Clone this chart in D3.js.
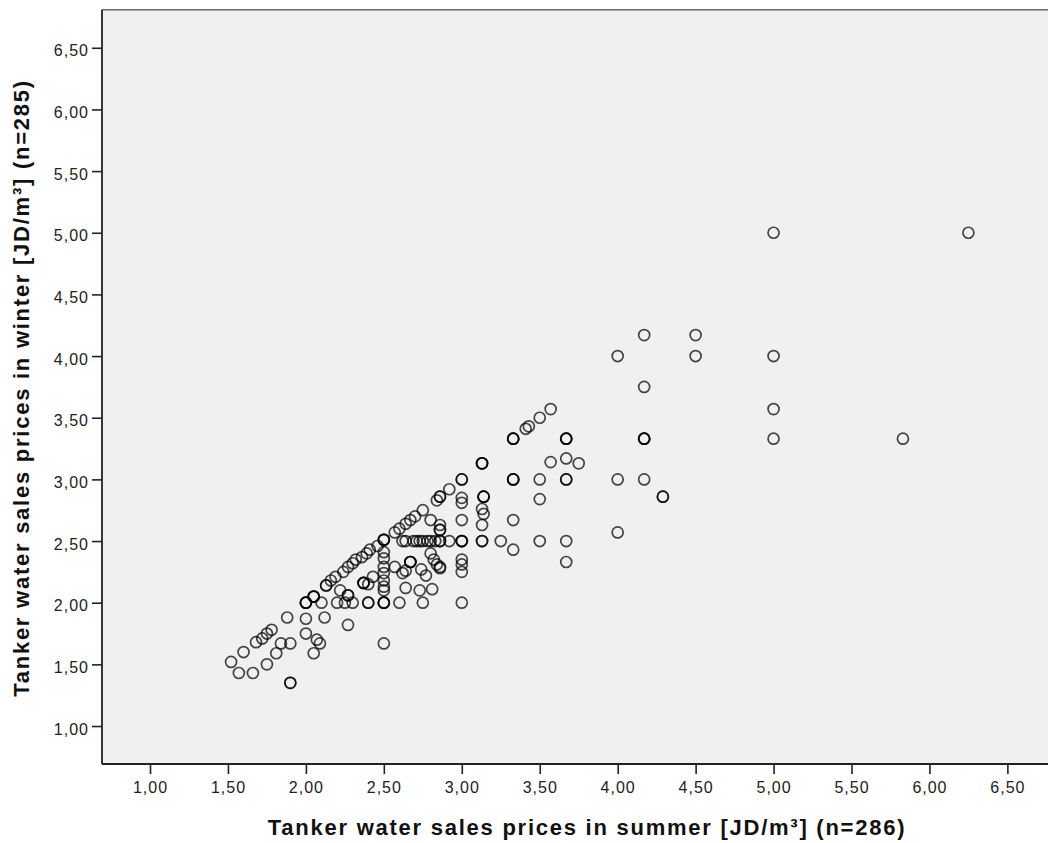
<!DOCTYPE html>
<html>
<head>
<meta charset="utf-8">
<script src="https://cdn.jsdelivr.net/npm/d3@7/dist/d3.min.js"></script>
<style>
  html, body { margin: 0; padding: 0; background: #ffffff; }
  svg { display: block; }
  .tick text { font-family: "Liberation Sans", Arial, sans-serif; font-size: 16px; letter-spacing: 1px; fill: #222; }
  .title { font-family: "Liberation Sans", Arial, sans-serif; font-size: 22px; font-weight: bold; letter-spacing: 1.75px; fill: #111; }
</style>
</head>
<body>
<svg id="chart" width="1048" height="843"></svg>
<script>
// Summer price (x) and winter price (y) of each respondent, JD/m³
const summer = [
  6.25, 5.00, 4.17, 4.50, 4.00, 4.50, 5.00, 4.17, 5.00, 4.17, 4.17, 4.17, 5.00, 5.83, 4.00, 4.17, 4.29, 4.29, 4.00,
  3.57, 3.50, 3.43, 3.41, 3.33, 3.33, 3.33, 3.67, 3.67, 3.67, 3.13, 3.13, 3.13, 3.57, 3.67, 3.75,
  3.00, 3.00, 3.33, 3.33, 3.33, 3.50, 3.67, 3.67, 2.92, 2.86, 2.86, 2.84, 3.00, 3.00, 3.14, 3.14, 3.14,
  3.13, 3.14, 3.50, 3.00, 3.13, 3.33, 2.92, 3.00, 3.00, 3.00, 3.13, 3.13, 3.25, 3.33, 3.50, 3.67, 3.67,
  3.00, 3.00, 3.00, 2.86, 3.00,
  2.75, 2.70, 2.67, 2.64, 2.60, 2.57, 2.80, 2.86, 2.86, 2.86,
  2.62, 2.64, 2.69, 2.71, 2.73, 2.75, 2.78, 2.80, 2.83, 2.86, 2.86,
  2.50, 2.50, 2.50,
  2.46, 2.41, 2.39, 2.36, 2.32, 2.30, 2.27, 2.24, 2.19, 2.16, 2.13, 2.13,
  2.50, 2.50, 2.50, 2.50, 2.50, 2.50, 2.50, 2.57, 2.67, 2.67, 2.67, 2.64, 2.62, 2.64, 2.73, 2.81,
  2.74, 2.77, 2.80, 2.82, 2.84, 2.86,
  2.75, 2.60, 2.50, 2.50, 2.50, 2.40, 2.40, 2.30, 2.25, 2.20, 2.10, 2.00, 2.00, 2.00,
  2.05, 2.05, 2.05, 2.22, 2.27, 2.27, 2.37, 2.37, 2.37, 2.43, 2.40,
  1.52, 1.57, 1.66, 1.60, 1.75, 1.81, 1.84, 1.90, 1.68, 1.72, 1.75, 1.78, 1.88, 1.90, 1.90,
  2.00, 2.00, 2.07, 2.09, 2.05, 2.12, 2.27, 2.50
];
const winter = [
  5.00, 5.00, 4.17, 4.17, 4.00, 4.00, 4.00, 3.75, 3.57, 3.33, 3.33, 3.33, 3.33, 3.33, 3.00, 3.00, 2.86, 2.86, 2.57,
  3.57, 3.50, 3.43, 3.41, 3.33, 3.33, 3.33, 3.33, 3.33, 3.33, 3.13, 3.13, 3.13, 3.14, 3.17, 3.13,
  3.00, 3.00, 3.00, 3.00, 3.00, 3.00, 3.00, 3.00, 2.92, 2.86, 2.86, 2.83, 2.85, 2.81, 2.86, 2.86, 2.86,
  2.76, 2.72, 2.84, 2.67, 2.63, 2.67, 2.50, 2.50, 2.50, 2.50, 2.50, 2.50, 2.50, 2.43, 2.50, 2.50, 2.33,
  2.35, 2.31, 2.25, 2.29, 2.00,
  2.75, 2.70, 2.67, 2.64, 2.60, 2.57, 2.67, 2.63, 2.59, 2.59,
  2.50, 2.50, 2.50, 2.50, 2.50, 2.50, 2.50, 2.50, 2.50, 2.50, 2.50,
  2.51, 2.51, 2.51,
  2.46, 2.43, 2.40, 2.37, 2.35, 2.32, 2.29, 2.25, 2.21, 2.18, 2.14, 2.14,
  2.41, 2.36, 2.29, 2.24, 2.18, 2.13, 2.10, 2.29, 2.33, 2.33, 2.33, 2.26, 2.24, 2.12, 2.10, 2.11,
  2.27, 2.22, 2.40, 2.35, 2.31, 2.28,
  2.00, 2.00, 2.00, 2.00, 2.00, 2.00, 2.00, 2.00, 2.00, 2.00, 2.00, 2.00, 2.00, 2.00,
  2.05, 2.05, 2.05, 2.10, 2.06, 2.06, 2.16, 2.16, 2.16, 2.21, 2.15,
  1.52, 1.43, 1.43, 1.60, 1.50, 1.59, 1.67, 1.67, 1.68, 1.71, 1.75, 1.78, 1.88, 1.35, 1.35,
  1.87, 1.75, 1.70, 1.67, 1.59, 1.88, 1.82, 1.67
];
const xTickValues = [1.00, 1.50, 2.00, 2.50, 3.00, 3.50, 4.00, 4.50, 5.00, 5.50, 6.00, 6.50];
const yTickValues = [1.00, 1.50, 2.00, 2.50, 3.00, 3.50, 4.00, 4.50, 5.00, 5.50, 6.00, 6.50];
const xTitle = "Tanker water sales prices in summer [JD/m³] (n=286)";
const yTitle = "Tanker water sales prices in winter [JD/m³] (n=285)";

const svg = d3.select("#chart");
const pLeft = 102, pTop = 9.8, pBottom = 764, pRight = 1055.4;
const x = d3.scaleLinear().domain([0.692, 6.808]).range([pLeft, pRight]);
const y = d3.scaleLinear().domain([0.692, 6.808]).range([pBottom, pTop]);
const fmt = d => d3.format(".2f")(d).replace(".", ",");

// plot background
svg.append("rect")
  .attr("x", pLeft).attr("y", pTop)
  .attr("width", pRight - pLeft).attr("height", pBottom - pTop)
  .attr("fill", "#f0f0f0");
svg.append("line")
  .attr("x1", pLeft).attr("x2", 1048).attr("y1", pTop).attr("y2", pTop)
  .attr("stroke", "#6a6a6a").attr("stroke-width", 1.6);

// axes
const yAxis = svg.append("g")
  .attr("transform", `translate(${pLeft},0)`)
  .call(d3.axisLeft(y).tickValues(yTickValues).tickFormat(fmt).tickSize(10).tickPadding(3));
yAxis.select(".domain").remove();
yAxis.selectAll(".tick line").attr("stroke", "#222").attr("stroke-width", 1.6);
yAxis.selectAll(".tick text").attr("dy", "0.5em");

const xAxis = svg.append("g")
  .attr("transform", `translate(0,${pBottom})`)
  .call(d3.axisBottom(x).tickValues(xTickValues).tickFormat(fmt).tickSize(10).tickPadding(8));
xAxis.select(".domain").remove();
xAxis.selectAll(".tick line").attr("stroke", "#222").attr("stroke-width", 1.6);

svg.append("line")
  .attr("x1", pLeft).attr("x2", pLeft).attr("y1", pTop).attr("y2", pBottom)
  .attr("stroke", "#222").attr("stroke-width", 1.8);
svg.append("line")
  .attr("x1", pLeft).attr("x2", 1048).attr("y1", pBottom).attr("y2", pBottom)
  .attr("stroke", "#222").attr("stroke-width", 1.8);

// points
const pts = summer.map((s, i) => [s, winter[i]]);
svg.append("g")
  .selectAll("circle")
  .data(pts)
  .join("circle")
  .attr("cx", d => x(d[0]))
  .attr("cy", d => y(d[1]))
  .attr("r", 5.5)
  .attr("fill", "none")
  .attr("stroke", "#000")
  .attr("stroke-opacity", 0.72)
  .attr("stroke-width", 1.7);

// titles
svg.append("text")
  .attr("class", "title")
  .attr("x", 587).attr("y", 835)
  .attr("text-anchor", "middle")
  .text(xTitle);
svg.append("text")
  .attr("class", "title")
  .attr("transform", `translate(29,388) rotate(-90)`)
  .attr("text-anchor", "middle")
  .text(yTitle);
</script>
</body>
</html>
